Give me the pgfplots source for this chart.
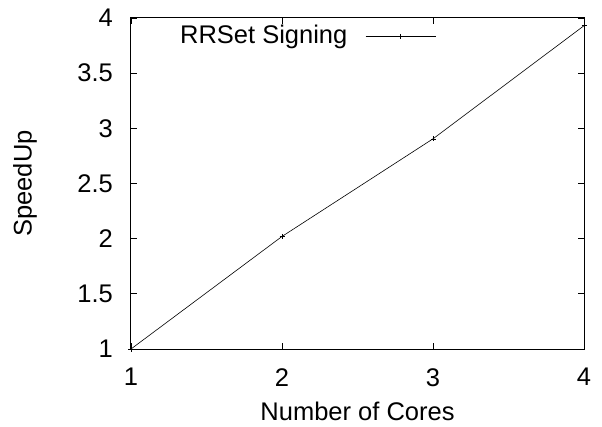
\documentclass[border=0pt]{standalone}
\usepackage{pgfplots}
\pgfplotsset{compat=1.18}
\usepackage{fontspec}
\setmainfont{Liberation Sans}
\begin{document}
\begin{tikzpicture}
\fontsize{25.5bp}{30bp}\selectfont
\begin{axis}[
  scale only axis,
  width=453bp, height=331bp,
  xmin=1, xmax=4, ymin=1, ymax=4,
  xtick={1,2,3,4},
  ytick={1,1.5,2,2.5,3,3.5,4},
  tick align=inside,
  major tick length=6bp,
  axis line style={line width=1bp},
  every tick/.style={line width=0.7bp, black},
  /pgf/number format/assume math mode=true,
  tick label style={font=\fontsize{25.5bp}{30bp}\selectfont, inner sep=0pt},
  xticklabel style={anchor=north, yshift=-19bp},
  yticklabel style={anchor=east, xshift=-18bp},
  xlabel={Number of Cores},
  ylabel={SpeedUp},
  every axis x label/.style={at={(axis description cs:0.5,-0.161)}, anchor=north, inner sep=0pt, font=\fontsize{25.5bp}{30bp}\selectfont},
  every axis y label/.style={at={(axis description cs:-0.2605,0.5)}, rotate=90, anchor=north, inner sep=0pt, font=\fontsize{25.5bp}{30bp}\selectfont},
  legend style={draw=none, fill=none, font=\fontsize{25.5bp}{30bp}\selectfont,
    at={(axis description cs:0.108,0.979)}, anchor=north west, inner sep=0pt,
    nodes={inner sep=0pt}},
  legend plot pos=right,
  legend image code/.code={\path (0,0); \draw[mark repeat=2,mark phase=2,#1] plot coordinates {(18bp,0) (53bp,0) (88bp,0)};},
]
\addplot[black, line width=0.6bp, mark=+, mark size=2.5bp, mark options={line width=0.5bp}] coordinates {
  (1,1) (2,2.02) (3,2.905) (4,3.93)
};
\addlegendentry{RRSet Signing}
\end{axis}
\pgfresetboundingbox
\path[use as bounding box] (-131bp,-78bp) rectangle (471bp,349bp);
\end{tikzpicture}
\end{document}
